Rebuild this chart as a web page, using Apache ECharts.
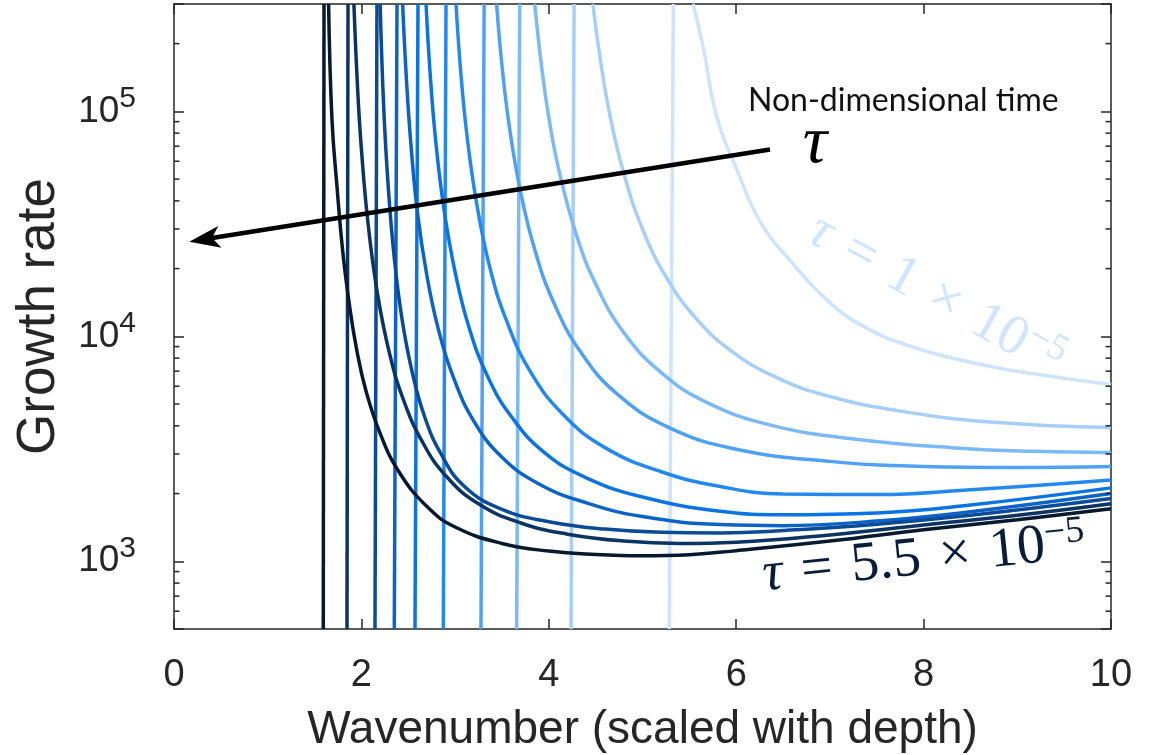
<!DOCTYPE html>
<html>
<head>
<meta charset="utf-8">
<script src="https://cdn.jsdelivr.net/npm/echarts@6/dist/echarts.min.js"></script>
<style>
html,body{margin:0;padding:0;background:#fff;}
#chart{width:1160px;height:755px;}
</style>
</head>
<body>
<div id="chart"></div>
<script>
// Non-dimensional times (x 1e-5), one curve each, lightest to darkest
const tauList = ['1', '1.5', '2', '2.5', '3', '3.5', '4', '4.5', '5', '5.5'];
const lineColors = ['#cde4fb', '#a5cff9', '#7cbaf7', '#4fa2f3', '#2389ee', '#0b74e3', '#0c63c6', '#0b4b96', '#0b3463', '#07192f'];

// Wavenumber where each branch jumps through the whole range (bottom / top edge)
const poleBottomX = [5.286, 4.237, 3.657, 3.276, 2.874, 2.572, 2.351, 2.145, 1.846, 1.593];
const poleTopX    = [5.329, 4.270, 3.690, 3.310, 2.903, 2.604, 2.380, 2.166, 1.857, 1.601];

// Growth-rate curves [wavenumber, growth rate]
const curveT10 = [[5.54,300000],[5.65,190000],[5.795,93700],[6.0,56000],[6.254,32400],[6.606,21000],[6.969,14500],[7.321,11300],[7.855,9050],[8.741,7300],[9.3,6700],[10,6100]];
const curveT15 = [[4.47,300000],[4.55,170000],[4.65,97000],[4.8,53000],[5.0,30000],[5.25,18400],[5.55,12300],[5.95,8600],[6.45,6500],[7.0,5400],[7.75,4650],[8.75,4150],[10,3930]];
const curveT20 = [[3.85,300000],[3.92,162000],[4.0,94000],[4.12,52000],[4.3,27800],[4.5,17100],[4.8,10400],[5.2,6900],[5.7,5050],[6.4,4000],[7.3,3480],[8.3,3200],[9.2,3080],[10,3040]];
const curveT25 = [[3.443,300000],[3.5,160000],[3.58,85000],[3.7,43500],[3.85,24300],[4.05,14200],[4.35,8400],[4.75,5450],[5.3,3900],[6.0,3150],[7.0,2780],[8.0,2640],[9.0,2610],[10,2640]];
const curveT30 = [[3.01,300000],[3.06,150000],[3.13,76000],[3.23,39000],[3.37,20300],[3.55,11700],[3.8,7000],[4.15,4500],[4.6,3200],[5.2,2500],[5.83,2150],[6.5,1990],[7.5,1980],[8.5,2080],[10,2300]];
const curveT35 = [[2.69,300000],[2.73,155000],[2.79,76000],[2.88,37000],[3.0,19300],[3.15,10900],[3.35,6600],[3.6,4400],[3.95,3050],[4.4,2350],[5.0,1930],[5.83,1668],[6.5,1610],[7.5,1640],[8.5,1780],[10,2120]];
const curveT40 = [[2.44,300000],[2.48,140000],[2.53,70000],[2.6,35000],[2.7,18500],[2.82,10800],[2.98,6600],[3.2,4200],[3.5,2900],[3.9,2200],[4.4,1820],[5.0,1580],[5.83,1456],[6.5,1440],[7.5,1510],[8.5,1660],[10,2000]];
const curveT45 = [[2.2,300000],[2.24,100000],[2.29,44000],[2.35,22500],[2.43,12200],[2.53,7300],[2.67,4450],[2.85,3000],[3.1,2150],[3.5,1700],[4.0,1500],[4.6,1390],[5.2,1345],[5.83,1337],[6.5,1370],[7.5,1460],[8.5,1600],[10,1900]];
const curveT50 = [[1.92,300000],[1.96,125000],[2.0,68000],[2.07,32000],[2.17,15600],[2.3,8400],[2.45,5200],[2.65,3400],[2.9,2400],[3.25,1800],[3.7,1480],[4.2,1320],[4.8,1230],[5.4,1200],[6.0,1215],[7.0,1310],[8.0,1450],[9.0,1600],[10,1800]];
const curveT55 = [[1.65,300000],[1.686,91800],[1.74,46000],[1.80,24000],[1.87,14000],[1.95,8700],[2.05,5700],[2.2,3700],[2.4,2500],[2.7,1750],[3.0,1420],[3.5,1200],[4.0,1110],[4.5,1072],[5.0,1058],[5.5,1070],[6.0,1115],[7.0,1230],[8.0,1380],[9.0,1530],[10,1710]];
const curves = [curveT10, curveT15, curveT20, curveT25, curveT30, curveT35, curveT40, curveT45, curveT50, curveT55];

// Axis ranges and tick values
const xMin = 0, xMax = 10, xStep = 2;
const yMin = 500, yMax = 300000;
const yMinorTicks = [600, 700, 800, 900, 2000, 3000, 4000, 5000, 6000, 7000, 8000, 9000,
  20000, 30000, 40000, 50000, 60000, 70000, 80000, 90000, 200000];

const axisColor = '#262626';
const sansFont = '"Liberation Sans", Arial, Helvetica, sans-serif';
const serifFont = '"Liberation Serif", "Times New Roman", serif';

const chart = echarts.init(document.getElementById('chart'), null, {renderer: 'canvas'});

const axisLine = {show: true, onZero: false, lineStyle: {color: axisColor, width: 1.5}};
const tickIn = {show: true, inside: true, length: 10, lineStyle: {color: axisColor, width: 1.5}};

function powerLabel(v) {
  const e = Math.log10(v);
  const r = Math.round(e);
  if (Math.abs(e - r) > 1e-6) return '';
  return '{b|10}{s|' + r + '}';
}

const series = [];
curves.forEach(function (pts, i) {
  // near-vertical jump across the pole
  series.push({
    name: 'jump ' + tauList[i],
    type: 'line',
    data: [[poleBottomX[i], yMin], [poleTopX[i], yMax]],
    symbol: 'none',
    smooth: false,
    lineStyle: {color: lineColors[i], width: 3.5},
    silent: true,
    z: 2 + i
  });
  series.push({
    name: 'tau ' + tauList[i],
    type: 'line',
    data: pts,
    symbol: 'none',
    smooth: 0.45,
    lineStyle: {color: lineColors[i], width: 3.5},
    silent: true,
    clip: true,
    z: 2 + i
  });
});

// minor ticks of the log axis on both sides of the box
series.push({
  type: 'custom',
  silent: true,
  clip: false,
  z: 20,
  data: yMinorTicks.map(function (v) { return [xMin, v]; }),
  renderItem: function (params, api) {
    const v = api.value(1);
    const pl = api.coord([xMin, v]);
    const pr = api.coord([xMax, v]);
    return {
      type: 'group',
      children: [
        {type: 'line', shape: {x1: pl[0], y1: pl[1], x2: pl[0] + 5.5, y2: pl[1]}, style: {stroke: axisColor, lineWidth: 1.5}},
        {type: 'line', shape: {x1: pr[0], y1: pr[1], x2: pr[0] - 5.5, y2: pr[1]}, style: {stroke: axisColor, lineWidth: 1.5}}
      ]
    };
  }
});

// arrow geometry for the time annotation
const arrowTail = [770, 149.5];
const arrowTip = [189.3, 241.7];
const dx = arrowTip[0] - arrowTail[0], dy = arrowTip[1] - arrowTail[1];
const len = Math.sqrt(dx * dx + dy * dy);
const ux = dx / len, uy = dy / len, px = -uy, py = ux;
const headLen = 31, headHalf = 11, notch = 23;
const headBase = [arrowTip[0] - ux * headLen, arrowTip[1] - uy * headLen];
const notchPt = [arrowTip[0] - ux * notch, arrowTip[1] - uy * notch];

// τ = N × 10^-5 as rich text; the exponent is lifted by bottom padding
function tauLabel(body, color, size) {
  const sup = Math.round(size * 0.68);
  const gap = '\u2004';
  return {
    text: '{t|τ}{n|' + gap + '=' + gap + body + gap + '×' + gap + '10}{s|−5}',
    align: 'center', verticalAlign: 'middle',
    rich: {
      t: {fontFamily: serifFont, fontStyle: 'italic', fontSize: size, fill: color, verticalAlign: 'bottom', lineHeight: size},
      n: {fontFamily: serifFont, fontSize: size, fill: color, verticalAlign: 'bottom', lineHeight: size},
      s: {fontFamily: serifFont, fontSize: sup, fill: color, verticalAlign: 'bottom', lineHeight: sup, padding: [0, 0, Math.round(size * 0.38), 0]}
    }
  };
}

const option = {
  animation: false,
  backgroundColor: '#ffffff',
  grid: {left: 174, top: 4, width: 937, height: 625, containLabel: false, outerBoundsMode: 'none'},
  xAxis: [
    {
      type: 'value', min: xMin, max: xMax, interval: xStep, position: 'bottom',
      axisLine: axisLine, axisTick: tickIn, splitLine: {show: false},
      axisLabel: {fontSize: 38, color: axisColor, margin: 28, fontFamily: sansFont},
      name: 'Wavenumber (scaled with depth)', nameLocation: 'middle', nameGap: 78,
      nameTextStyle: {fontSize: 46, color: axisColor, fontFamily: sansFont}
    },
    {
      type: 'value', min: xMin, max: xMax, interval: xStep, position: 'top',
      axisLine: axisLine, axisTick: tickIn, splitLine: {show: false}, axisLabel: {show: false}
    }
  ],
  yAxis: [
    {
      type: 'log', logBase: 10, min: yMin, max: yMax, position: 'left',
      axisLine: axisLine, axisTick: tickIn, splitLine: {show: false}, minorTick: {show: false},
      axisLabel: {
        formatter: powerLabel, margin: 38, color: axisColor,
        rich: {
          b: {fontSize: 37, fontFamily: sansFont, color: axisColor, verticalAlign: 'bottom', lineHeight: 37},
          s: {fontSize: 30, fontFamily: sansFont, color: axisColor, verticalAlign: 'bottom', lineHeight: 30, padding: [0, 0, 16, 0]}
        }
      },
      name: 'Growth rate', nameLocation: 'middle', nameGap: 108, nameRotate: 90,
      nameTextStyle: {fontSize: 53, color: axisColor, fontFamily: sansFont}
    },
    {
      type: 'log', logBase: 10, min: yMin, max: yMax, position: 'right',
      axisLine: axisLine, axisTick: tickIn, splitLine: {show: false}, axisLabel: {show: false}
    }
  ],
  series: series,
  graphic: [
    {
      type: 'text', x: 748, y: 101, z: 50,
      style: {text: 'Non-dimensional time', font: '32px Lato, "Open Sans", sans-serif', fill: '#111111', align: 'left', verticalAlign: 'middle'}
    },
    {
      type: 'text', x: 815, y: 144, z: 50,
      style: {text: 'τ', font: 'italic 68px ' + serifFont, fill: '#000000', align: 'center', verticalAlign: 'middle'}
    },
    {
      type: 'line', z: 50,
      shape: {x1: arrowTail[0], y1: arrowTail[1], x2: notchPt[0], y2: notchPt[1]},
      style: {stroke: '#000000', lineWidth: 4.5}
    },
    {
      type: 'polygon', z: 50,
      shape: {points: [
        arrowTip,
        [headBase[0] + px * headHalf, headBase[1] + py * headHalf],
        notchPt,
        [headBase[0] - px * headHalf, headBase[1] - py * headHalf]
      ]},
      style: {fill: '#000000'}
    },
    {
      type: 'text', x: 936, y: 296, rotation: -0.505, z: 50,
      style: tauLabel('1', '#cfe5fb', 56)
    },
    {
      type: 'text', x: 924, y: 559, rotation: 0.102, z: 50,
      style: tauLabel('5.5', '#0a1d38', 56)
    }
  ]
};

chart.setOption(option);
</script>
</body>
</html>
